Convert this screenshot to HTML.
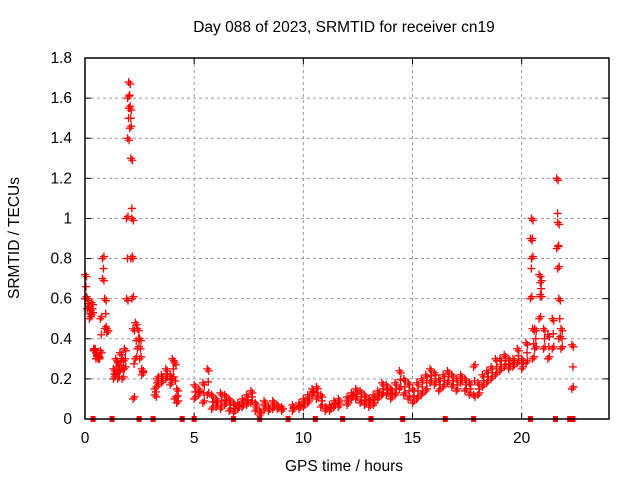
<!DOCTYPE html>
<html><head><meta charset="utf-8"><style>
body{margin:0;background:#fff}
svg{display:block;font-family:"Liberation Sans",sans-serif}
</style></head><body>
<svg id="c" width="640" height="480"></svg>
<script>
const xTicks=[0,5,10,15,20];
const yTicks=[0,0.2,0.4,0.6,0.8,1,1.2,1.4,1.6,1.8];
const yTickLabels=["0","0.2","0.4","0.6","0.8","1","1.2","1.4","1.6","1.8"];
const hours=[0,0.1,0.2,0.3,0.4,0.5,0.6,0.7,0.8,0.9,1.0,
1.3,1.4,1.5,1.6,1.7,1.8,1.9,1.95,2.0,2.05,2.1,2.15,2.2,2.3,2.4,2.5,2.6,
3.2,3.3,3.5,3.7,3.9,4.0,4.1,4.2,
5.0,5.2,5.4,5.6,5.8,6.0,6.2,6.4,6.6,6.8,7.0,7.2,7.4,7.6,7.8,8.0,8.2,8.4,8.6,8.8,9.0,9.5,9.8,10.0,10.2,10.4,10.6,10.8,11.0,11.2,11.4,11.6,12.0,12.2,12.4,12.6,12.8,13.0,13.2,13.4,13.6,13.8,14.0,14.2,14.4,14.6,14.8,15.0,15.2,15.4,15.6,15.8,16.0,16.2,16.4,16.6,16.8,17.0,17.2,17.4,17.6,17.8,18.0,18.2,18.4,18.6,18.8,19.0,19.2,19.4,19.6,19.8,20.0,20.2,20.4,20.45,20.5,20.6,20.8,20.85,21.0,21.2,21.4,21.6,21.65,21.7,21.8,22.3];
const valsA=[0.72,0.6,0.55,0.58,0.35,0.33,0.31,0.34,0.7,0.6,0.45,
0.25,0.3,0.28,0.33,0.3,0.35,0.6,1.4,1.68,1.55,1.3,1.0,0.45,0.48,0.45,0.4,0.25,
0.12,0.18,0.22,0.25,0.22,0.3,0.28,0.15,
0.17,0.15,0.18,0.25,0.12,0.1,0.13,0.12,0.1,0.08,0.08,0.1,0.12,0.14,0.08,0.04,0.09,0.06,0.09,0.07,0.06,0.07,0.08,0.1,0.12,0.15,0.16,0.12,0.06,0.07,0.09,0.1,0.11,0.13,0.15,0.14,0.12,0.1,0.12,0.14,0.18,0.17,0.15,0.18,0.24,0.2,0.18,0.15,0.18,0.2,0.22,0.25,0.23,0.2,0.22,0.24,0.22,0.2,0.22,0.2,0.18,0.12,0.18,0.22,0.24,0.26,0.3,0.3,0.32,0.3,0.3,0.35,0.3,0.38,0.9,1.0,0.45,0.45,0.72,0.62,0.45,0.42,0.5,1.2,0.98,0.6,0.45,0.37];
const valsB=[0.6,0.55,0.5,0.52,0.34,0.3,0.3,0.5,0.8,0.45,0.43,
0.2,0.22,0.2,0.24,0.2,0.25,1.0,1.6,1.55,1.45,0.8,0.6,0.1,0.3,0.35,0.3,0.22,
0.15,0.2,0.18,0.2,0.17,0.2,0.1,0.08,
0.1,0.12,0.08,0.12,0.05,0.06,0.05,0.07,0.04,0.03,0.05,0.06,0.07,0.08,0.04,0.02,0.05,0.04,0.05,0.05,0.04,0.04,0.05,0.06,0.08,0.12,0.1,0.06,0.04,0.04,0.06,0.06,0.07,0.1,0.1,0.08,0.07,0.06,0.07,0.1,0.12,0.12,0.1,0.12,0.15,0.12,0.1,0.08,0.1,0.12,0.14,0.18,0.17,0.14,0.16,0.18,0.16,0.14,0.18,0.14,0.12,0.26,0.12,0.16,0.18,0.2,0.22,0.24,0.26,0.25,0.26,0.28,0.25,0.28,0.6,0.8,0.3,0.35,0.5,0.68,0.35,0.3,0.35,0.85,0.75,0.4,0.35,0.15];
const zeroHours=[0.37,1.24,2.48,3.12,4.45,5.0,6.8,8.0,9.3,10.55,11.8,13.1,14.55,16.5,17.8,20.4,21.55,22.2,22.35];

const NS="http://www.w3.org/2000/svg";
const svg=document.getElementById('c');
const L=85,R=609,T=58,B=419;
const xs=h=>L+h*(R-L)/24;
const ys=v=>B-v*(B-T)/1.8;
function mk(tag,attrs,parent){const e=document.createElementNS(NS,tag);for(const k in attrs)e.setAttribute(k,attrs[k]);(parent||svg).appendChild(e);return e;}

const grid=mk('g',{});


yTicks.forEach((v,i)=>{
 const y=ys(v);
 if(i>0&&i<yTicks.length-1){mk('line',{x1:L,x2:R,y1:y,y2:y,stroke:'#999','stroke-dasharray':'3,3'},grid);}
 mk('line',{x1:L,x2:L+6,y1:y,y2:y,stroke:'#000'});
 mk('line',{x1:R,x2:R-6,y1:y,y2:y,stroke:'#000'});
 const t=mk('text',{x:L-13,y:y+5,'text-anchor':'end','font-size':15.5,fill:'#000'});
 t.textContent=yTickLabels[i];
 
 
});
xTicks.forEach(h=>{
 const x=xs(h);
 if(h>0){mk('line',{x1:x,x2:x,y1:T,y2:B,stroke:'#999','stroke-dasharray':'3,3'},grid);}
 mk('line',{x1:x,x2:x,y1:B,y2:B-6,stroke:'#000'});
 mk('line',{x1:x,x2:x,y1:T,y2:T+6,stroke:'#000'});
 const t=mk('text',{x:x,y:B+24,'text-anchor':'middle','font-size':15.5,fill:'#000'});
 t.textContent=String(h);
 
 
});

const pts=mk('g',{stroke:'#f00','stroke-width':1.3,fill:'none'});


function plus(x,y){mk('path',{d:`M${x-4},${y}h8M${x},${y-4}v8`},pts);}
hours.forEach((h,i)=>{
 const x=xs(h);
 plus(x,ys(valsA[i]));plus(x+1.5,ys(valsA[i])+2);
 plus(x,ys(valsB[i]));plus(x+1.5,ys(valsB[i])-2);
 plus(x+1,ys((valsA[i]+valsB[i])/2));
});
const zs=mk('g',{fill:'#f00'});


zeroHours.forEach(h=>mk('rect',{x:xs(h)-2.5,y:B-3,width:5,height:6},zs));

const frame=mk('rect',{x:L,y:T,width:R-L,height:B-T,fill:'none',stroke:'#000','stroke-width':1.5});



const title=mk('text',{x:344,y:32,'text-anchor':'middle','font-size':15.5,fill:'#000'});
title.textContent='Day 088 of 2023, SRMTID for receiver cn19';


const xl=mk('text',{x:344,y:471,'text-anchor':'middle','font-size':15.5,fill:'#000'});
xl.textContent='GPS time / hours';


const yl=mk('text',{x:19,y:238,'text-anchor':'middle','font-size':15.5,fill:'#000',transform:'rotate(-90 19 238)'});
yl.textContent='SRMTID / TECUs';


</script>
</body></html>
